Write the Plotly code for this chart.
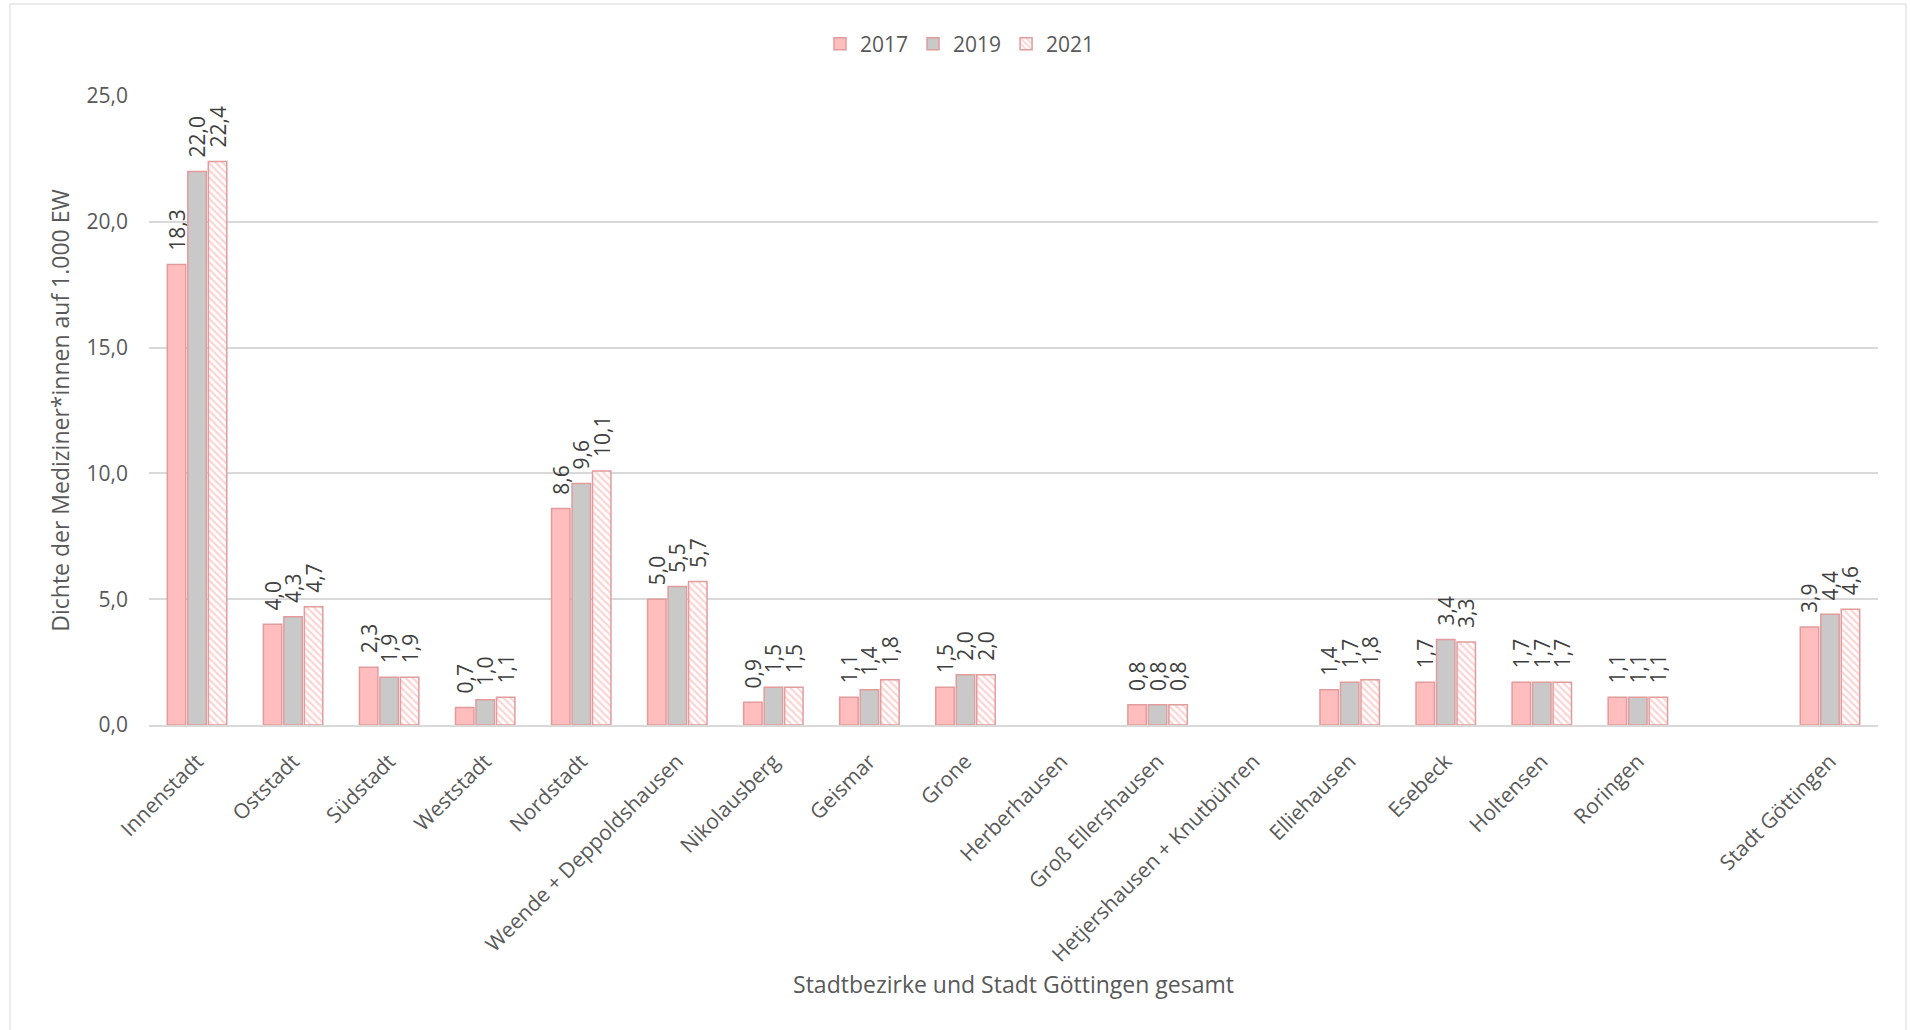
import plotly.graph_objects as go

categories = ["Innenstadt", "Oststadt", "Südstadt", "Weststadt", "Nordstadt",
              "Weende + Deppoldshausen", "Nikolausberg", "Geismar", "Grone",
              "Herberhausen", "Groß Ellershausen", "Hetjershausen + Knutbühren",
              "Elliehausen", "Esebeck", "Holtensen", "Roringen", " ", "Stadt Göttingen"]
v2017 = [18.3, 4.0, 2.3, 0.7, 8.6, 5.0, 0.9, 1.1, 1.5, None, 0.8, None, 1.4, 1.7, 1.7, 1.1, None, 3.9]
v2019 = [22.0, 4.3, 1.9, 1.0, 9.6, 5.5, 1.5, 1.4, 2.0, None, 0.8, None, 1.7, 3.4, 1.7, 1.1, None, 4.4]
v2021 = [22.4, 4.7, 1.9, 1.1, 10.1, 5.7, 1.5, 1.8, 2.0, None, 0.8, None, 1.8, 3.3, 1.7, 1.1, None, 4.6]
years = ["2017", "2019", "2021"]
y_ticks = [0, 5, 10, 15, 20, 25]

W, H = 1910, 1030
L, R, T, B = 149, 32, 96, 305
FONT = "Open Sans"
BORDER = "#E29C9C"
GAP = "\u00a0\u00a0"

def lab(vals):
    return ["" if v is None else GAP + f"{v:.1f}".replace(".", ",") for v in vals]

fig = go.Figure()
styles = [
    dict(color="#FFBDBD", line=dict(color=BORDER, width=1.5)),
    dict(color="#C9C9C9", line=dict(color=BORDER, width=1.5)),
    dict(color="#FFFFFF", line=dict(color=BORDER, width=1.5),
         pattern=dict(shape="\\", fgcolor="#F7A8A8", bgcolor="#FFFFFF", size=5, solidity=0.45)),
]
for name, vals, st in zip(years, [v2017, v2019, v2021], styles):
    fig.add_trace(go.Bar(
        x=categories, y=vals, name=name, marker=st,
        text=lab(vals), textposition="outside", textangle=-90,
        constraintext="none", cliponaxis=False,
        textfont=dict(family=FONT, size=21, color="#404040"),
        hoverinfo="x+y",
    ))

pw = W - L - R
ph = H - T - B
def px_x(p):
    return (p - L) / pw
def px_y(p):
    return 1 - (p - T) / ph

fig.add_shape(type="rect", xref="paper", yref="paper",
              x0=px_x(10), x1=px_x(1906), y0=px_y(1035), y1=px_y(4),
              line=dict(color="#D9D9D9", width=1), fillcolor="rgba(0,0,0,0)", layer="below")

fig.update_layout(
    width=W, height=H,
    margin=dict(l=L, r=R, t=T, b=B, autoexpand=False),
    paper_bgcolor="white", plot_bgcolor="white",
    separators=",.",
    barmode="group", bargap=0.36, bargroupgap=0.1,
    font=dict(family=FONT, color="#595959"),
    legend=dict(orientation="h", x=px_x(960), xanchor="center", y=px_y(44), yanchor="middle",
                font=dict(family=FONT, size=21, color="#595959"),
                itemwidth=30, traceorder="normal"),
    showlegend=True,
)
fig.update_xaxes(
    type="category", categoryorder="array", categoryarray=categories,
    tickangle=-45, tickfont=dict(family=FONT, size=21, color="#595959"),
    ticklabelstandoff=14,
    showgrid=False, showline=True, linecolor="#D9D9D9", linewidth=1.5,
    ticks="", automargin=False,
    title=dict(text="Stadtbezirke und Stadt Göttingen gesamt",
               font=dict(family=FONT, size=23, color="#595959"), standoff=8),
)
fig.update_yaxes(
    range=[0, 25], tickvals=y_ticks, tickformat=".1f",
    tickfont=dict(family=FONT, size=21, color="#595959"),
    ticklabelstandoff=20,
    showgrid=True, gridcolor="#D9D9D9", gridwidth=1.5, zeroline=False,
    showline=False, ticks="", automargin=False,
    title=dict(text="Dichte der Mediziner*innen auf 1.000 EW",
               font=dict(family=FONT, size=23, color="#595959"), standoff=10),
)

fig.write_html("out.html", config={"displayModeBar": False},
               post_script="document.body.style.margin='0';document.body.style.overflow='hidden';")
